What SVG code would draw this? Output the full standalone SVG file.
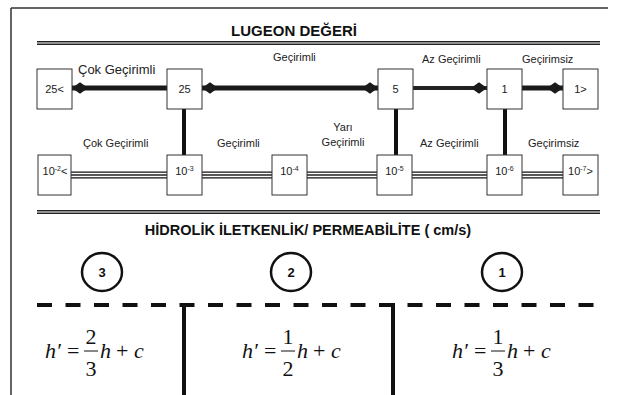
<svg xmlns="http://www.w3.org/2000/svg" width="618" height="395" viewBox="0 0 618 395">
<style>
.lbl{font-family:"Liberation Sans",Arial,sans-serif;font-size:11px;fill:#222}
.big{font-size:13px}
.ttl{font-family:"Liberation Sans",Arial,sans-serif;font-weight:bold;fill:#111}
.box{fill:#fff;stroke:#333;stroke-width:1}
.thick{stroke:#1a1a1a;stroke-width:5;fill:none}
.thin{stroke:#222;stroke-width:4;fill:none}
.vert{stroke:#111;stroke-width:4;fill:none}
.tri1{stroke:#111;stroke-width:7;fill:none}
.tri2{stroke:#fff;stroke-width:4.5;fill:none}
.tri3{stroke:#222;stroke-width:1.5;fill:none}
.dbl1{stroke:#222;stroke-width:4;fill:none}
.dbl2{stroke:#fff;stroke-width:1.2;fill:none}
.eq{font-family:"Liberation Serif","Times New Roman",serif;font-size:22px;fill:#111}
.it{font-style:italic}
.circ{fill:none;stroke:#111;stroke-width:2.5}
.num{font-family:"Liberation Sans",Arial,sans-serif;font-weight:bold;font-size:13px;text-anchor:middle;fill:#111}
.c{text-anchor:middle}
</style>
<defs>
<marker id="dia" markerUnits="userSpaceOnUse" markerWidth="16" markerHeight="12" refX="14" refY="5" orient="auto-start-reverse" viewBox="0 0 14 10">
<path d="M0,5 L7,0 L14,5 L7,10 Z" fill="#1a1a1a"/>
</marker>
</defs>
<rect width="618" height="395" fill="#fff"/>
<!-- frame -->
<path d="M11,8 H608 M11,8 V395" stroke="#333" stroke-width="1.5" fill="none"/>
<!-- title and rules -->
<text class="ttl" x="294" y="36" font-size="15" text-anchor="middle">LUGEON DEĞERİ</text>
<path class="dbl1" d="M37,43 H600"/><path class="dbl2" d="M37,43 H600"/>
<path class="dbl1" d="M37,212 H600"/><path class="dbl2" d="M37,212 H600"/>
<text class="ttl" x="308" y="235" font-size="14.5" text-anchor="middle">HİDROLİK İLETKENLİK/ PERMEABİLİTE ( cm/s)</text>

<g id="connectors">
<path class="thick" d="M72,88 H167" marker-start="url(#dia)"/>
<path class="thick" d="M202,88 H378" marker-start="url(#dia)" marker-end="url(#dia)"/>
<path class="thin" d="M413,88 H487" marker-end="url(#dia)"/>
<path class="thick" d="M522,88 H563" marker-end="url(#dia)"/>
<path class="vert" d="M184,109 V155 M396,109 V155 M505,109 V155"/>
<g>
<path class="tri1" d="M71,175 H167 M202,175 H272 M307,175 H377 M412,175 H487 M522,175 H563"/>
<path class="tri2" d="M71,175 H167 M202,175 H272 M307,175 H377 M412,175 H487 M522,175 H563"/>
<path class="tri3" d="M71,175 H167 M202,175 H272 M307,175 H377 M412,175 H487 M522,175 H563"/>
</g>
<path d="M37,305 H594" stroke="#111" stroke-width="4" stroke-dasharray="15 13.5" fill="none"/>
<path class="vert" d="M184,303 V395 M393,303 V395"/>
</g>

<!-- top row labels -->
<text class="lbl big" x="78" y="74">Çok Geçirimli</text>
<text class="lbl" x="273" y="61">Geçirimli</text>
<text class="lbl" x="422" y="63">Az Geçirimli</text>
<text class="lbl" x="522" y="63">Geçirimsiz</text>

<g id="n25lt"><rect class="box" x="37" y="69" width="35" height="40"/><text class="lbl c" x="54.5" y="93">25&lt;</text></g>
<g id="n25"><rect class="box" x="167" y="69" width="35" height="40"/><text class="lbl c" x="184.5" y="93">25</text></g>
<g id="n5"><rect class="box" x="378" y="69" width="35" height="40"/><text class="lbl c" x="395.5" y="93">5</text></g>
<g id="n1"><rect class="box" x="487" y="69" width="35" height="40"/><text class="lbl c" x="504.5" y="93">1</text></g>
<g id="n1gt"><rect class="box" x="563" y="69" width="35" height="40"/><text class="lbl c" x="580.5" y="93">1&gt;</text></g>

<!-- bottom row labels -->
<text class="lbl" x="83" y="147">Çok Geçirimli</text>
<text class="lbl" x="217" y="147">Geçirimli</text>
<text class="lbl c" x="343" y="131">Yarı</text>
<text class="lbl c" x="343" y="146">Geçirimli</text>
<text class="lbl" x="420" y="147">Az Geçirimli</text>
<text class="lbl" x="528" y="147">Geçirimsiz</text>

<g id="k2"><rect class="box" x="38" y="155" width="33" height="40"/><text class="lbl c" x="55" y="175">10<tspan font-size="7" dy="-4">-2</tspan><tspan dy="4">&lt;</tspan></text></g>
<g id="k3"><rect class="box" x="167" y="155" width="35" height="40"/><text class="lbl c" x="184.5" y="175">10<tspan font-size="7" dy="-4">-3</tspan></text></g>
<g id="k4"><rect class="box" x="272" y="155" width="35" height="40"/><text class="lbl c" x="289.5" y="175">10<tspan font-size="7" dy="-4">-4</tspan></text></g>
<g id="k5"><rect class="box" x="377" y="155" width="35" height="40"/><text class="lbl c" x="394.5" y="175">10<tspan font-size="7" dy="-4">-5</tspan></text></g>
<g id="k6"><rect class="box" x="487" y="155" width="35" height="40"/><text class="lbl c" x="504.5" y="175">10<tspan font-size="7" dy="-4">-6</tspan></text></g>
<g id="k7"><rect class="box" x="563" y="155" width="35" height="40"/><text class="lbl c" x="580.5" y="175">10<tspan font-size="7" dy="-4">-7</tspan><tspan dy="4">&gt;</tspan></text></g>

<!-- circles -->
<g id="c3"><ellipse class="circ" cx="102" cy="272" rx="20" ry="19"/><text class="num" x="102" y="277">3</text></g>
<g id="c2"><ellipse class="circ" cx="291" cy="272" rx="20" ry="19"/><text class="num" x="291" y="277">2</text></g>
<g id="c1"><ellipse class="circ" cx="502" cy="272" rx="20" ry="19"/><text class="num" x="502" y="277">1</text></g>

<!-- equations -->
<g id="eq3">
<text class="eq it" x="45" y="358">h′</text><text class="eq" x="67" y="358">=</text>
<text class="eq c" x="91" y="344">2</text><path d="M84,351 H98" stroke="#111" stroke-width="1"/><text class="eq c" x="91" y="376">3</text>
<text class="eq it" x="100" y="358">h</text><text class="eq" x="116" y="358">+</text><text class="eq it" x="134" y="358">c</text>
</g>
<g id="eq2" transform="translate(197,0)">
<text class="eq it" x="45" y="358">h′</text><text class="eq" x="67" y="358">=</text>
<text class="eq c" x="91" y="344">1</text><path d="M84,351 H98" stroke="#111" stroke-width="1"/><text class="eq c" x="91" y="376">2</text>
<text class="eq it" x="100" y="358">h</text><text class="eq" x="116" y="358">+</text><text class="eq it" x="134" y="358">c</text>
</g>
<g id="eq1" transform="translate(407,0)">
<text class="eq it" x="45" y="358">h′</text><text class="eq" x="67" y="358">=</text>
<text class="eq c" x="91" y="344">1</text><path d="M84,351 H98" stroke="#111" stroke-width="1"/><text class="eq c" x="91" y="376">3</text>
<text class="eq it" x="100" y="358">h</text><text class="eq" x="116" y="358">+</text><text class="eq it" x="134" y="358">c</text>
</g>
</svg>
